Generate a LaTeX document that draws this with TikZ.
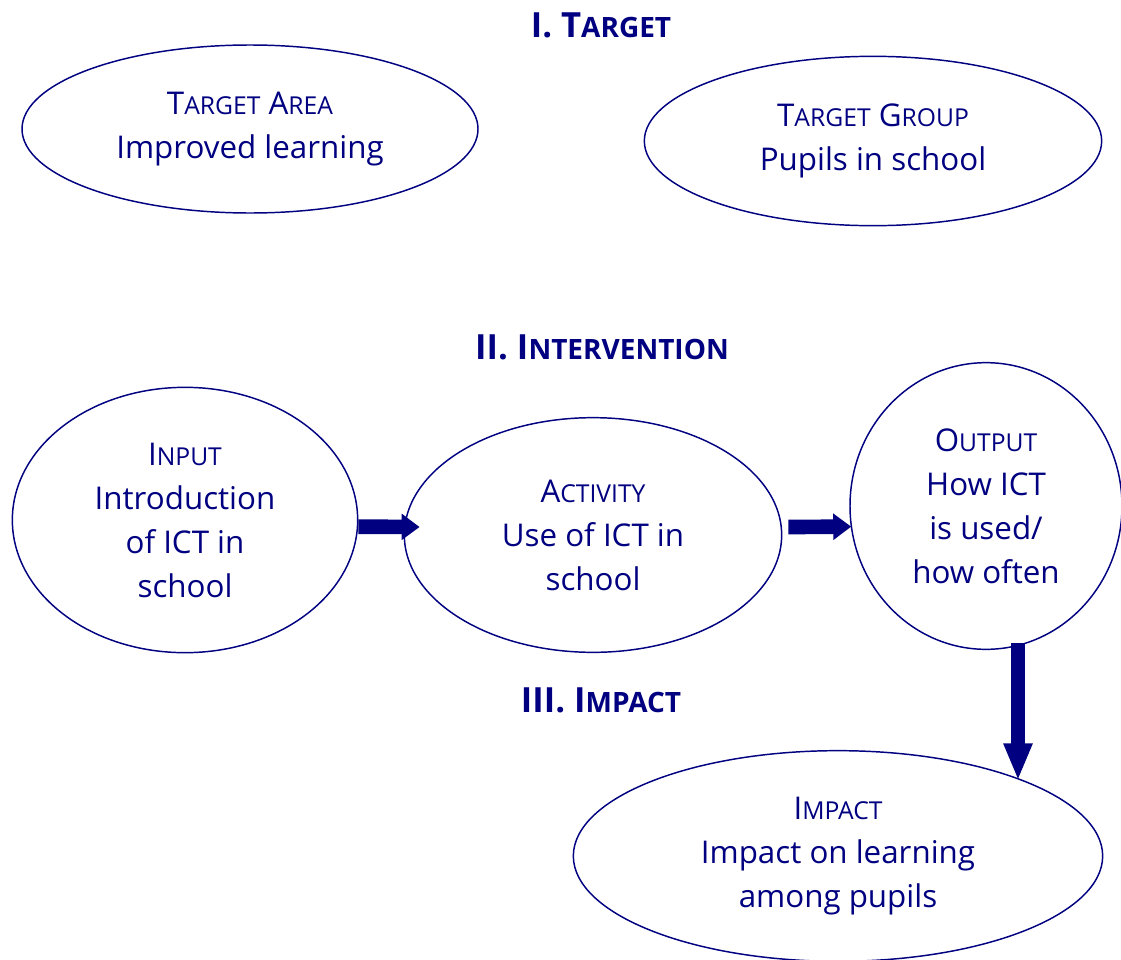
\documentclass[tikz,border=0pt]{standalone}
\usepackage{fontspec}
\setmainfont{Open Sans}
\usetikzlibrary{shapes,arrows.meta}
\definecolor{inknavy}{RGB}{0, 0, 128}
\newcommand{\sm}[1]{{\fontsize{18.5pt}{33pt}\selectfont #1}}
\newcommand{\smb}[1]{{\fontsize{21pt}{33pt}\selectfont #1}}
\tikzstyle{oval} = [ellipse, draw=inknavy, line width=1.1pt, text=inknavy,
    align=center, inner sep=0pt, font=\fontsize{23.5pt}{33pt}\selectfont]
\tikzstyle{title} = [text=inknavy, font=\bfseries\fontsize{26pt}{28pt}\selectfont]
\tikzstyle{line} = [draw=inknavy, line width=11pt, -{Triangle[width=19pt, length=13.5pt]}]

\begin{document}
\begin{tikzpicture}[x=0.75pt, y=-0.75pt]
  \useasboundingbox (0,0) rectangle (1121,960);
  \node [title] (head_target) at (601,25) {I. T\smb{ARGET}};
  \node [oval, minimum width=342pt, minimum height=126pt] (target_area) at (250,129) {T\sm{ARGET} A\sm{REA}\\Improved learning};
  \node [oval, minimum width=343pt, minimum height=127pt] (target_group) at (873,141) {T\sm{ARGET} G\sm{ROUP}\\Pupils in school};
  \node [title] (head_intervention) at (602,347) {II. I\smb{NTERVENTION}};
  \node [oval, minimum width=259pt, minimum height=199pt] (input) at (185,520) {I\sm{NPUT}\\Introduction\\of ICT in\\school};
  \node [oval, minimum width=283pt, minimum height=176pt] (activity) at (593,535) {A\sm{CTIVITY}\\Use of ICT in\\school};
  \node [oval, minimum width=204pt, minimum height=215pt] (output) at (986,506) {O\sm{UTPUT}\\How ICT\\is used/\\how often};
  \node [title] (head_impact) at (601,700) {III. I\smb{MPACT}};
  \node [oval, minimum width=397pt, minimum height=158pt] (impact) at (838,856) {I\sm{MPACT}\\Impact on learning\\among pupils};
  \path [line] ([yshift=-5pt]input.east) -- ([xshift=12pt, yshift=6pt]activity.west);
  \path [line] ([xshift=4.5pt, yshift=6pt]activity.east) -- ([xshift=1.5pt, yshift=-15.5pt]output.west);
  \path [line, -{Triangle[width=20pt, length=28pt]}] ([xshift=24pt, yshift=5pt]output.south) -- ([xshift=135pt, yshift=-23pt]impact.north);
\end{tikzpicture}
\end{document}
